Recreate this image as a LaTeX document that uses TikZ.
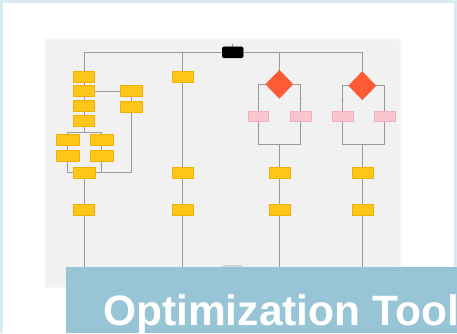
\documentclass[tikz,border=0pt]{standalone}
\usepackage{fontspec}
\setmainfont{Liberation Sans}
\usetikzlibrary{shapes.geometric,arrows.meta,decorations.markings}
\definecolor{frameblue}{HTML}{D9EBF2}
\definecolor{bannerblue}{HTML}{98C5D6}
\definecolor{panelgray}{HTML}{F1F1F1}
\definecolor{stepyellow}{HTML}{FFC61A}
\definecolor{stepedge}{HTML}{F2B000}
\definecolor{optpink}{HTML}{F9C6D0}
\definecolor{optedge}{HTML}{F2AEBB}
\definecolor{decred}{HTML}{FF5A36}
\definecolor{wire}{HTML}{9A9A9A}
\tikzset{
  stepbox/.style={rectangle, fill=stepyellow, draw=stepedge, line width=0.3pt,
    minimum width=20.5pt, minimum height=10.5pt, inner sep=0pt},
  widebox/.style={stepbox, minimum width=22pt},
  optbox/.style={rectangle, fill=optpink, draw=optedge, line width=0.3pt,
    minimum width=20pt, minimum height=9pt, inner sep=0pt},
  decbox/.style={diamond, fill=decred, draw=decred!85!black, line width=0.3pt,
    minimum width=27pt, minimum height=28pt, inner sep=0pt, aspect=1},
  startbox/.style={rectangle, rounded corners=1.5pt, fill=black,
    minimum width=21pt, minimum height=11pt, inner sep=0pt},
  endbox/.style={rectangle, rounded corners=1.5pt, fill=black!15, draw=black!30,
    line width=0.3pt, minimum width=20pt, minimum height=8pt, inner sep=0pt},
  link/.style={draw=wire, line width=0.5pt},
  branch/.style={link, postaction={decorate}, decoration={markings,
    mark=at position 0.68 with {\arrow{Stealth[length=2pt,width=2pt]}}}},
}
\begin{document}
\begin{tikzpicture}[x=1pt,y=-1pt]
\useasboundingbox (0,0) rectangle (457,333);
\clip (0,0) rectangle (457,333);

% frame and white sheet
\fill[frameblue] (0,0) rectangle (457,333);
\fill[white] (3,3) rectangle (453.5,333);

% flowchart panel with soft edges
\foreach \d in {4,3,2,1,0}
  \fill[panelgray, fill opacity=0.35] (48.3-\d,41.7-\d) rectangle (398.3+\d,285+\d);
\fill[panelgray] (50,43.5) rectangle (396.5,283);

% nodes
\node[startbox] (S) at (232.7,52.3) {};
\coordinate (Stop) at (232.7,44);

% column 1
\node[stepbox] (A1) at (84,76.7) {};
\node[stepbox] (A2) at (84,91) {};
\node[stepbox] (A3) at (84,106) {};
\node[stepbox] (A4) at (84,121) {};
\coordinate (split1) at (84,132.7);
\node[widebox] (B1) at (67.7,140) {};
\node[widebox] (B2) at (101.7,140) {};
\node[widebox] (B3) at (67.7,156) {};
\node[widebox] (B4) at (101.7,156) {};
\node[stepbox, minimum width=21pt] (C) at (84,172.3) {};
\node[stepbox, minimum width=21pt] (D1) at (131,91) {};
\node[stepbox, minimum width=21pt, minimum height=11pt] (D2) at (131,106.7) {};
\node[stepbox] (E) at (84,210) {};
\coordinate (Eend) at (84,290);

% column 2
\node[stepbox, minimum width=21pt] (F1) at (182.3,76.7) {};
\node[stepbox, minimum width=21pt] (F2) at (182.3,172.3) {};
\node[stepbox, minimum width=21pt] (F3) at (182.3,210) {};
\coordinate (Fend) at (182.3,290);

% column 3
\node[decbox] (G) at (279.3,84.3) {};
\node[optbox] (P1) at (258.3,116) {};
\node[optbox, minimum width=21pt] (P2) at (300.7,116) {};
\coordinate (join3) at (279.3,144.3);
\node[stepbox] (H1) at (279.3,172.3) {};
\node[stepbox] (H2) at (279.3,210) {};
\coordinate (Hend) at (279.3,290);

% column 4
\node[decbox] (J) at (362.3,85.7) {};
\node[optbox] (P3) at (342.7,116) {};
\node[optbox, minimum width=21pt] (P4) at (384.5,116) {};
\coordinate (join4) at (362.3,144.3);
\node[stepbox, minimum width=21pt] (K1) at (362.3,172.3) {};
\node[stepbox, minimum width=21pt] (K2) at (362.3,210) {};
\coordinate (Kend) at (362.3,290);

% end marker peeking out at the bottom
\node[endbox] (Z) at (232.7,270) {};

% connectors
\path[link] (Stop) -- (S.north);
\path[link] (S.west) -| (A1.north);
\path[link] (S.east) -| (J.north);
\path[link] (F1.north) |- (S.west);
\path[link] (G.north) |- (S.east);

\path[link] (A1) -- (A2);
\path[link] (A2) -- (A3);
\path[link] (A3) -- (A4);
\path[link] (A4) -- (split1);
\path[link] (split1) -| (B1.north);
\path[link] (split1) -| (B2.north);
\path[link] (B1) -- (B3);
\path[link] (B2) -- (B4);
\path[link] (B3.south) |- (C.west);
\path[link] (B4.south) |- (C.east);
\path[link] (A2.east) -- (D1.west);
\path[link] (D1) -- (D2);
\path[link] (D2.south) |- (C.east);
\path[link] (C) -- (E);
\path[link] (E) -- (Eend);

\path[link] (F1) -- (F2);
\path[link] (F2) -- (F3);
\path[link] (F3) -- (Fend);

\path[branch] (G.west) -| (P1.north);
\path[branch] (G.east) -| (P2.north);
\path[link] (P1.south) |- (join3);
\path[link] (P2.south) |- (join3);
\path[link] (join3) -- (H1);
\path[link] (H1) -- (H2);
\path[link] (H2) -- (Hend);

\path[branch] (J.west) -| (P3.north);
\path[branch] (J.east) -| (P4.north);
\path[link] (P3.south) |- (join4);
\path[link] (P4.south) |- (join4);
\path[link] (join4) -- (K1);
\path[link] (K1) -- (K2);
\path[link] (K2) -- (Kend);

% redraw the boxes over the wires
\foreach \n in {A1,A2,A3,A4,B1,B2,B3,B4,C,D1,D2,E,F1,F2,F3,H1,H2,K1,K2}
  \path[fill=stepyellow, draw=stepedge, line width=0.3pt] (\n.south west) rectangle (\n.north east);
\foreach \n in {P1,P2,P3,P4}
  \path[fill=optpink, draw=optedge, line width=0.3pt] (\n.south west) rectangle (\n.north east);
\path[fill=decred] (G.north) -- (G.east) -- (G.south) -- (G.west) -- cycle;
\path[fill=decred] (J.north) -- (J.east) -- (J.south) -- (J.west) -- cycle;
\path[fill=black, rounded corners=1.5pt] (S.south west) rectangle (S.north east);
\path[fill=black!15, draw=black!30, line width=0.3pt, rounded corners=1.5pt] (Z.south west) rectangle (Z.north east);

% title banner
\fill[bannerblue] (66,267) rectangle (457,333);
\node[anchor=base west, inner sep=0pt, text=white, font=\fontsize{42.5}{42.5}\selectfont\bfseries] (title) at (103,325) {Optimization Tool};
\end{tikzpicture}
\end{document}
